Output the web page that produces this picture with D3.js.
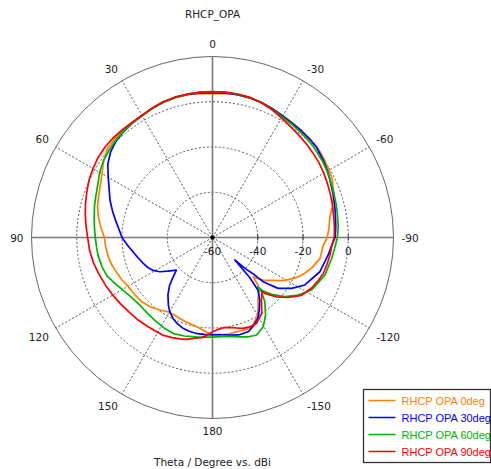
<!DOCTYPE html>
<html>
<head>
<meta charset="utf-8">
<script src="https://cdn.jsdelivr.net/npm/d3@7"></script>
<style>
  html, body { margin: 0; padding: 0; background: #fff; }
  svg { display: block; }
</style>
</head>
<body>
<svg id="chart" width="491" height="469"></svg>
<script>
// ---------- DATA ----------
const chartTitle = "RHCP_OPA";
const axisTitle = "Theta / Degree vs. dBi";
const angleTicks = [0, 30, 60, 90, 120, 150, 180, -150, -120, -90, -60, -30];
const radialTicks = [-60, -40, -20, 0];
const dashedRings = [-40, -20, 0];
const radialDomain = [-60, 20];
const seriesNames = ["RHCP OPA 0deg", "RHCP OPA 30deg", "RHCP OPA 60deg", "RHCP OPA 90deg"];
const seriesColors = ["#ff8000", "#0000ff", "#00b400", "#ff0000"];

// [theta (deg), gain (dBi)]
const opa0deg = [
  [-180,-17.2],[-176,-16.7],[-170,-16.8],[-166,-17.0],[-162,-16.8],[-158,-16.7],[-155,-17.5],
  [-150,-20.3],[-147,-23],[-144,-25.8],[-140,-28],[-136.5,-30.5],[-134,-35],[-132.5,-33.5],
  [-130,-30.5],[-126,-27.8],[-122,-24],[-119,-21.6],[-115,-18.5],[-111,-16.2],[-107,-14.1],
  [-101,-11.6],[-94,-10.9],[-90,-9.3],[-85,-8.3],[-80,-7.3],[-75,-5.0],[-70,-3.0],[-64,-1.1],
  [-60,-0.5],[-55,0.3],[-50,1.0],[-45,1.2],[-40,1.5],[-35,1.8],[-30,2.2],[-25,2.8],[-20,3.4],
  [-15,3.8],[-10,4.0],[-5,3.9],[0,3.6],[5,3.8],[10,4.0],[15,4.0],[20,3.6],[25,3.0],[30,2.3],
  [35,2.0],[40,1.7],[45,1.4],[50,0.8],[55,-1.2],[60,-3.6],[65,-5.3],[70,-6.4],[75,-7.4],
  [80,-8.8],[85,-10.5],[90,-12.2],[95,-12.6],[100,-13.1],[105,-13.8],[110,-14.9],[115,-15.8],
  [121,-17.0],[127,-17.4],[132,-17.7],[138,-18.8],[144,-20.4],[150,-21.9],[154,-21.8],
  [158,-21.4],[162,-21.0],[167,-20.4],[172,-19.5],[176,-18.2],[180,-17.2]
];
const opa30deg = [
  [-180,-17],[-175.7,-17],[-170,-16.2],[-165,-15.4],[-159,-15.5],[-155,-17],[-150.6,-19.1],
  [-147,-22],[-143,-25.3],[-139.2,-29.3],[-137,-36],[-135.3,-46],[-133.5,-40],[-131.6,-35],
  [-131.1,-30.3],[-127.8,-23.3],[-122.7,-18.4],[-117.2,-14.1],[-107.7,-10.2],[-98.6,-8.3],
  [-95,-7.5],[-90,-5.8],[-85,-5.3],[-79,-4.7],[-75,-4.1],[-70,-3.3],[-63,-2.0],[-60,-1.3],
  [-55,-0.3],[-49,0.9],[-45,1.1],[-40,1.3],[-35,1.6],[-30,2.0],[-25,2.8],[-20,3.5],[-15,3.9],
  [-10,4.1],[-5,4.1],[0,4.0],[5,4.1],[10,4.2],[15,4.1],[20,3.7],[25,3.0],[30,2.2],[35,1.7],
  [40,1.1],[45,0.3],[50,-1.2],[55,-3.5],[60,-6.8],[65,-9.6],[70,-11.8],[75,-14.2],[80,-16.5],
  [85,-18.5],[90,-20],[95,-22.2],[100,-24.2],[105,-25.8],[110,-27.2],[115,-28.5],[119,-30],
  [123,-32.2],[127,-35.3],[132,-38.5],[135,-35.5],[138,-31.7],[142,-28],[147,-24.2],
  [150,-22.2],[154,-20.2],[158,-18.8],[162,-17.8],[166,-17.3],[170,-17],[175,-17],[180,-17]
];
const opa60deg = [
  [-180,-16],[-175,-16],[-170,-15.6],[-165,-14.5],[-160,-13.3],[-155.7,-12.7],[-150.4,-14.6],
  [-145.6,-18.5],[-140.8,-23.4],[-137.9,-27.7],[-137.6,-30.5],[-136.6,-27.4],[-133.9,-23.8],
  [-129.3,-18.7],[-123.9,-14.4],[-117.9,-10.4],[-108.5,-7.6],[-100,-6.5],[-95,-5.8],
  [-90,-4.8],[-85,-4.2],[-79,-3.8],[-75,-3.4],[-70,-2.9],[-64,-2.1],[-60,-1.5],[-55,-0.8],
  [-48,0],[-45,0.3],[-40,0.7],[-35,1.1],[-30,1.6],[-25,2.6],[-20,3.4],[-15,4.0],[-10,4.3],
  [-5,4.4],[0,4.4],[5,4.4],[10,4.3],[15,4.0],[20,3.5],[25,2.9],[30,2.2],[35,1.7],[40,1.2],
  [45,0.6],[50,-0.2],[55,-1.1],[60,-2.4],[65,-4.1],[70,-5.2],[75,-6.0],[80,-6.9],[85,-7.6],
  [90,-8.2],[95,-8.6],[99,-8.8],[105,-9.5],[110,-10.4],[115,-12.2],[120,-14.0],[126,-15.4],
  [133,-16.1],[140,-15.8],[146,-15.3],[152,-14.6],[158,-14.2],[164,-14.7],[171,-15.5],
  [176,-15.9],[180,-16]
];
const opa90deg = [
  [-180,-18.3],[-177,-19.2],[-173,-19.8],[-169,-19.5],[-165,-18.6],[-161.4,-17.6],[-157,-17.2],
  [-153,-17.3],[-147,-20],[-141.9,-24.9],[-137.2,-27.7],[-136.9,-26.2],[-132.8,-21.4],
  [-128.4,-17.3],[-123,-13.1],[-117,-10.8],[-112,-9.5],[-108,-8.5],[-103,-8],[-98.5,-7.5],
  [-94,-7.2],[-90,-6.2],[-85,-5.9],[-80,-5.6],[-75,-5.1],[-70,-4.5],[-65,-3.9],[-60,-3.2],
  [-55,-2.5],[-50,-2.0],[-45,-1.4],[-40,-0.8],[-35,0.0],[-30,1.0],[-25,2.3],[-20,3.4],
  [-15,4.1],[-10,4.4],[-5,4.5],[0,4.5],[5,4.5],[10,4.4],[15,4.2],[20,3.8],[25,3.1],[30,2.4],
  [35,2.1],[40,2.1],[45,2.2],[50,2.1],[55,1.7],[60,1.0],[65,0.2],[70,-0.9],[75,-1.9],
  [80,-2.9],[85,-3.9],[90,-4.8],[96,-5.4],[102,-6.2],[108,-7.3],[114,-8.2],[120,-9.1],
  [126,-9.9],[132,-10.6],[138,-10.9],[143,-11.3],[148,-11.5],[153,-11.6],[158,-12.3],
  [162,-12.9],[166,-13.6],[170,-14.8],[174,-15.5],[177,-16.8],[180,-18.3]
];
const seriesData = [opa0deg, opa30deg, opa60deg, opa90deg];

// ---------- LAYOUT ----------
const cx = 212.5, cy = 237.5, R = 181;
const fontMain = "'DejaVu Sans', sans-serif";
const svg = d3.select("#chart");
const g = svg.append("g").attr("transform", `translate(${cx},${cy})`);

const r = d3.scaleLinear().domain(radialDomain).range([0, R]).clamp(true);
const toRad = d => -d * Math.PI / 180;  // positive theta goes counter-clockwise
const px = (theta, rad) => -Math.sin(theta * Math.PI / 180) * rad;
const py = (theta, rad) => -Math.cos(theta * Math.PI / 180) * rad;

// dashed rings
g.selectAll("circle.ring").data(dashedRings).join("circle")
  .attr("class", "ring").attr("r", d => r(d))
  .attr("fill", "none").attr("stroke", "#555").attr("stroke-width", 1)
  .attr("stroke-dasharray", "2,2");

// dashed spokes
const spokes = angleTicks.filter(a => a % 90 !== 0);
g.selectAll("line.spoke").data(spokes).join("line")
  .attr("class", "spoke")
  .attr("x1", 0).attr("y1", 0)
  .attr("x2", d => px(d, R)).attr("y2", d => py(d, R))
  .attr("stroke", "#555").attr("stroke-width", 1).attr("stroke-dasharray", "2,2");

// outer circle
g.append("circle").attr("r", R).attr("fill", "none")
  .attr("stroke", "#666").attr("stroke-width", 1);

// solid main axes
g.selectAll("line.axis").data([0, 90]).join("line")
  .attr("class", "axis")
  .attr("x1", d => px(d, R)).attr("y1", d => py(d, R))
  .attr("x2", d => px(d + 180, R)).attr("y2", d => py(d + 180, R))
  .attr("stroke", "#7a7a7a").attr("stroke-width", 1.6);

// radial ticks on the right axis
g.selectAll("line.rtick").data(radialTicks.filter(d => d > radialDomain[0])).join("line")
  .attr("class", "rtick")
  .attr("x1", d => r(d)).attr("x2", d => r(d))
  .attr("y1", -3).attr("y2", 3)
  .attr("stroke", "#333").attr("stroke-width", 1);

// radial tick labels
g.selectAll("text.rlabel").data(radialTicks).join("text")
  .attr("class", "rlabel")
  .attr("x", d => r(d)).attr("y", 17)
  .attr("text-anchor", "middle")
  .attr("font-family", fontMain).attr("font-size", "10.5px").attr("fill", "#222")
  .text(d => d);

// series
const line = d3.lineRadial()
  .angle(d => toRad(d[0]))
  .radius(d => r(d[1]));

g.selectAll("path.series").data(seriesData).join("path")
  .attr("class", "series")
  .attr("d", line)
  .attr("fill", "none")
  .attr("stroke", (d, i) => seriesColors[i])
  .attr("stroke-width", 1.7)
  .attr("stroke-linejoin", "round");

// center dot
g.append("circle").attr("r", 2.2).attr("fill", "#000");

// angle labels
const angLab = g.selectAll("text.alabel").data(angleTicks).join("text")
  .attr("class", "alabel")
  .attr("font-family", fontMain).attr("font-size", "10.5px").attr("fill", "#222")
  .attr("text-anchor", "middle")
  .text(d => d);
angLab.each(function(d) {
  const bb = this.getBBox();
  const sx = -Math.sin(d * Math.PI / 180), sy = -Math.cos(d * Math.PI / 180);
  const rr = R + 8;
  const x = sx * rr + (Math.abs(sx) > 0.01 ? Math.sign(sx) * bb.width / 2 : 0);
  const y = sy * rr + (Math.abs(sy) > 0.01 ? Math.sign(sy) * 4.5 : 0);
  d3.select(this).attr("x", x).attr("y", y + 4);
});

// titles
svg.append("text").attr("x", cx).attr("y", 18)
  .attr("text-anchor", "middle").attr("font-family", fontMain)
  .attr("font-size", "10.5px").attr("fill", "#222").text(chartTitle);
svg.append("text").attr("x", cx).attr("y", 465.5)
  .attr("text-anchor", "middle").attr("font-family", fontMain)
  .attr("font-size", "10.5px").attr("fill", "#222").text(axisTitle);

// legend
const lg = svg.append("g").attr("transform", "translate(363.5,389.5)");
lg.append("rect").attr("width", 127).attr("height", 73)
  .attr("fill", "#fff").attr("stroke", "#333").attr("stroke-width", 1.3);
const rows = lg.selectAll("g.row").data(seriesNames).join("g")
  .attr("class", "row")
  .attr("transform", (d, i) => `translate(0,${11 + i * 17})`);
rows.append("line").attr("x1", 5).attr("x2", 32).attr("y1", 0).attr("y2", 0)
  .attr("stroke", (d, i) => seriesColors[i]).attr("stroke-width", 1.5);
rows.append("text").attr("x", 38).attr("y", 4)
  .attr("font-family", "'Liberation Sans', Arial, sans-serif").attr("font-size", "11px")
  .attr("fill", (d, i) => seriesColors[i]).text(d => d);
</script>
</body>
</html>
